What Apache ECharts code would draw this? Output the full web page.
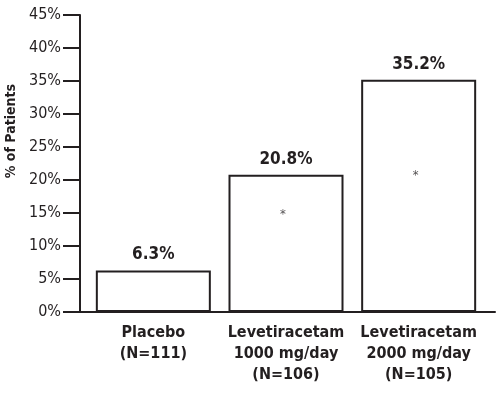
<!DOCTYPE html>
<html><head><meta charset="utf-8">
<script src="https://cdn.jsdelivr.net/npm/echarts@6/dist/echarts.min.js"></script>
<style>html,body{margin:0;padding:0;background:#fff}#c{width:501px;height:394px}</style>
</head><body><div id="c"></div>
<script>
var categories = ['Placebo\n(N=111)', 'Levetiracetam\n1000 mg/day\n(N=106)', 'Levetiracetam\n2000 mg/day\n(N=105)'];
var values = [6.3, 20.8, 35.2];
var valueLabels = ['6.3%', '20.8%', '35.2%'];
var asteriskY = [null, 15.0, 21.0];
var yTicks = [0, 5, 10, 15, 20, 25, 30, 35, 40, 45];
var yTitle = '% of Patients';

var FONT = "'Liberation Sans Narrow','DejaVu Sans Condensed',sans-serif";
var INK = '#231f20';
var chart = echarts.init(document.getElementById('c'), null, {renderer: 'canvas'});
chart.setOption({
  backgroundColor: '#fff',
  animation: false,
  grid: [
    {left: 80, right: 6, top: 15, bottom: 82, containLabel: false, outerBoundsMode: 'none'},
    {left: 87, right: 16, top: 15, bottom: 82, containLabel: false, outerBoundsMode: 'none'}
  ],
  graphic: [
    {type: 'text', left: 4, top: 84, rotation: Math.PI / 2,
     style: {text: yTitle, fill: INK, font: "bold 14px 'Liberation Sans Narrow','DejaVu Sans Condensed',sans-serif"}}
  ],
  xAxis: [
    {gridIndex: 0, type: 'category', data: [''], axisLine: {show: true, lineStyle: {color: INK, width: 2}},
     axisTick: {show: false}, axisLabel: {show: false}},
    {gridIndex: 1, type: 'category', data: categories, axisLine: {show: false}, axisTick: {show: false},
     axisLabel: {interval: 0, margin: 10, color: INK, fontFamily: FONT, fontWeight: 'bold', fontSize: 16, lineHeight: 21}}
  ],
  yAxis: [
    {gridIndex: 0, type: 'value', min: yTicks[0], max: yTicks[yTicks.length - 1], interval: 5,
     axisLine: {show: true, lineStyle: {color: INK, width: 2}},
     axisTick: {show: true, length: 17, lineStyle: {color: INK, width: 2}},
     splitLine: {show: false},
     axisLabel: {formatter: '{value}%', color: INK, fontFamily: FONT, fontSize: 16, margin: 19}},
    {gridIndex: 1, type: 'value', min: yTicks[0], max: yTicks[yTicks.length - 1], interval: 5, show: false, splitLine: {show: false}}
  ],
  series: [
    {type: 'bar', xAxisIndex: 1, yAxisIndex: 1, data: values, barWidth: 115,
     itemStyle: {color: '#fff', borderColor: INK, borderWidth: 2},
     label: {show: true, position: 'top', distance: 7, color: INK, fontFamily: FONT, fontWeight: 'bold', fontSize: 17,
       formatter: function (p) { return valueLabels[p.dataIndex]; }}},
    {type: 'scatter', xAxisIndex: 1, yAxisIndex: 1, data: asteriskY, symbolSize: 0,
     label: {show: true, position: 'inside', offset: [-3, 2], formatter: '*', color: INK, fontSize: 13, fontFamily: FONT}}
  ]
});
</script></body></html>
